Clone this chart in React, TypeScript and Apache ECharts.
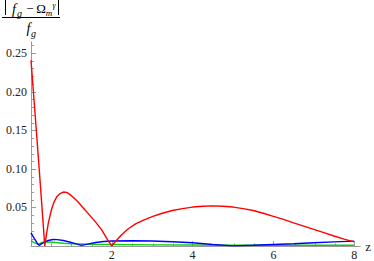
import React, { useEffect, useRef } from 'react';
import * as echarts from 'echarts';

// red curve
const redZ = [0, 0.1, 0.2, 0.3, 0.34, 0.38, 0.43, 0.5, 0.57, 0.64, 0.72, 0.8, 0.88, 0.96, 1.05, 1.15, 1.3, 1.45, 1.6, 1.75, 1.9, 2.0, 2.1, 2.25, 2.4, 2.6, 2.8, 3.0, 3.25, 3.5, 3.75, 4.0, 4.25, 4.5, 4.75, 5.0, 5.25, 5.5, 5.75, 6.0, 6.25, 6.5, 6.75, 7.0, 7.25, 7.5, 7.75, 8.0];
const redV = [0.241, 0.172, 0.102, 0.030, 0.0, 0.014, 0.030, 0.046, 0.057, 0.064, 0.068, 0.070, 0.0695, 0.067, 0.063, 0.058, 0.049, 0.040, 0.031, 0.021, 0.0075, 0.0, 0.0065, 0.015, 0.022, 0.029, 0.034, 0.038, 0.0425, 0.046, 0.0485, 0.0505, 0.0515, 0.052, 0.0515, 0.0505, 0.0485, 0.046, 0.0425, 0.0385, 0.0345, 0.030, 0.0258, 0.0215, 0.0173, 0.013, 0.009, 0.0054];

// blue curve
const blueZ = [0, 0.08, 0.15, 0.2, 0.27, 0.35, 0.45, 0.55, 0.65, 0.8, 0.95, 1.1, 1.25, 1.4, 1.6, 1.8, 2.0, 2.5, 3.0, 3.5, 4.0, 4.5, 5.0, 5.5, 6.0, 6.5, 7.0, 7.5, 8.0];
const blueV = [0.017, 0.010, 0.004, 0.0008, 0.003, 0.0055, 0.0075, 0.0084, 0.0083, 0.0072, 0.0052, 0.003, 0.0008, 0.0025, 0.0045, 0.0058, 0.0065, 0.0068, 0.0064, 0.0055, 0.0042, 0.002, 0.0002, 0.001, 0.002, 0.003, 0.0042, 0.0053, 0.0063];

// green curve
const greenZ = [0, 0.08, 0.17, 0.25, 0.34, 0.45, 0.6, 0.8, 1.0, 1.3, 1.6, 2.0, 3.0, 4.0, 5.0, 6.0, 7.0, 8.0];
const greenV = [0.007, 0.0045, 0.002, 0.004, 0.0055, 0.0052, 0.0045, 0.0035, 0.003, 0.0025, 0.0022, 0.002, 0.0015, 0.0012, 0.001, 0.0009, 0.0009, 0.001];

// ticks
const xMajor = [2, 4, 6, 8];
const xMinor = [0.5, 1, 1.5, 2.5, 3, 3.5, 4.5, 5, 5.5, 6.5, 7, 7.5];
const yMajor = [0.05, 0.1, 0.15, 0.2, 0.25];
const yMinor = [0.01, 0.02, 0.03, 0.04, 0.06, 0.07, 0.08, 0.09, 0.11, 0.12, 0.13, 0.14, 0.16, 0.17, 0.18, 0.19, 0.21, 0.22, 0.23, 0.24, 0.26];

const X_MAX = 8.15;
const Y_MAX = 0.265;
const AXIS = '#9a9a9a';
const SERIF = 'Liberation Serif';

const zip = (a: number[], b: number[]) => a.map((v, i) => [v, b[i]]);

export default function App() {
  const ref = useRef<HTMLDivElement>(null);
  useEffect(() => {
    if (!ref.current) return;
    const chart = echarts.init(ref.current, undefined, { renderer: 'svg' });
    const gridPos = { left: 31, right: 12, top: 41.7, bottom: 14.5 };
    const txt = (text: string, x: number, y: number, size: number, italic: boolean) => ({
      type: 'text', x, y,
      style: {
        text, fontFamily: SERIF, fontSize: size, fontStyle: italic ? 'italic' : 'normal',
        fill: '#000', align: 'center', verticalAlign: 'middle',
      },
    });
    chart.setOption({
      animation: false,
      backgroundColor: '#fff',
      textStyle: { fontFamily: SERIF },
      grid: [gridPos, gridPos],
      xAxis: [
        {
          type: 'value', gridIndex: 0, min: 0, max: X_MAX,
          name: 'z', nameLocation: 'end', nameGap: 5,
          nameTextStyle: { fontFamily: SERIF, fontSize: 13, color: '#222', verticalAlign: 'middle' },
          axisLine: { show: true, onZero: false, lineStyle: { color: AXIS, width: 1 } },
          axisTick: { show: true, inside: true, length: 5, customValues: xMajor, lineStyle: { color: AXIS } },
          axisLabel: { show: true, customValues: xMajor, margin: 3, fontFamily: SERIF, fontSize: 12, color: '#222' },
          splitLine: { show: false },
        },
        {
          type: 'value', gridIndex: 1, min: 0, max: X_MAX,
          axisLine: { show: false },
          axisTick: { show: true, inside: true, length: 3, customValues: xMinor, lineStyle: { color: AXIS } },
          axisLabel: { show: false },
          splitLine: { show: false },
        },
      ],
      yAxis: [
        {
          type: 'value', gridIndex: 0, min: 0, max: Y_MAX,
          axisLine: { show: true, onZero: false, lineStyle: { color: AXIS, width: 1 } },
          axisTick: { show: true, inside: true, length: 5, customValues: yMajor, lineStyle: { color: AXIS } },
          axisLabel: {
            show: true, customValues: yMajor, margin: 4, fontFamily: SERIF, fontSize: 12, color: '#222',
            formatter: (v: number) => v.toFixed(2),
          },
          splitLine: { show: false },
        },
        {
          type: 'value', gridIndex: 1, min: 0, max: Y_MAX,
          axisLine: { show: false },
          axisTick: { show: true, inside: true, length: 3, customValues: yMinor, lineStyle: { color: AXIS } },
          axisLabel: { show: false },
          splitLine: { show: false },
        },
      ],
      series: [
        { type: 'line', xAxisIndex: 0, yAxisIndex: 0, data: zip(greenZ, greenV), showSymbol: false, lineStyle: { color: '#11cc11', width: 1.4 } },
        { type: 'line', xAxisIndex: 0, yAxisIndex: 0, data: zip(blueZ, blueV), showSymbol: false, lineStyle: { color: '#0000ff', width: 1.4 } },
        { type: 'line', xAxisIndex: 0, yAxisIndex: 0, data: zip(redZ, redV), showSymbol: false, lineStyle: { color: '#ff0000', width: 1.4 } },
      ],
      graphic: [
        { type: 'line', shape: { x1: 5.5, y1: 0, x2: 5.5, y2: 15 }, style: { stroke: '#000', lineWidth: 1 } },
        { type: 'line', shape: { x1: 58.5, y1: 0, x2: 58.5, y2: 15 }, style: { stroke: '#000', lineWidth: 1 } },
        txt('f', 14, 9, 14, true),
        txt('g', 19.5, 13.5, 10, true),
        txt('\u2212', 30, 8.5, 13, false),
        txt('\u03A9', 41, 8, 13, false),
        txt('m', 49, 12.5, 9, true),
        txt('\u03B3', 54, 5, 8, true),
        { type: 'line', shape: { x1: 2, y1: 17.5, x2: 60, y2: 17.5 }, style: { stroke: '#000', lineWidth: 1 } },
        txt('f', 28.5, 28, 14, true),
        txt('g', 33.5, 33, 10, true),
      ],
    });
    return () => chart.dispose();
  }, []);
  return <div ref={ref} style={{ width: 374, height: 261, position: 'absolute', left: 0, top: 0 }} />;
}
